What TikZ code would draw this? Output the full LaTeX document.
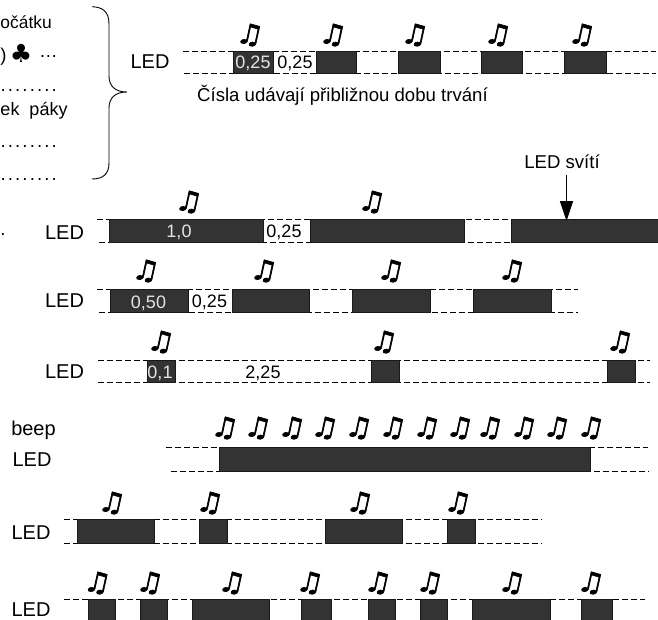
\documentclass[tikz,border=0pt]{standalone}
\usepackage{fontspec}
\setmainfont{Liberation Sans}
\newfontfamily\symfont{DejaVu Sans}
\newfontfamily\notefont[FakeBold=2.2]{DejaVu Sans}
\definecolor{ledfill}{HTML}{333333}
\definecolor{ledtext}{HTML}{E4E4E4}
\newcommand{\mynote}[2]{\node[notesym] (n#1x#2) at (#1,#2) {♫};}
% x1,x2,top,bottom
\newcommand{\mybox}[4]{\path[ledbox] (#1,#3) rectangle (#2,#4);}
\newcommand{\myrow}[6]{\draw[dashline] (#1,#3) -- (#2,#3); \draw[dashline] (#4,#6) -- (#5,#6);}
\newcommand{\mydots}{.\kern2.1pt.\kern2.1pt.\kern2.1pt.\kern2.1pt.\kern2.1pt.\kern2.1pt.\kern2.1pt.}
\tikzset{
  notesym/.style={font=\notefont\fontsize{27}{27}\selectfont,inner sep=0pt,text=black,xslant=0.22,xscale=1.1,transform shape},
  ledbox/.style={fill=ledfill,draw=black!90,line width=0.8pt},
  dashline/.style={draw=black,line width=0.8pt,dash pattern=on 6pt off 3pt},
  lbl/.style={font=\fontsize{20}{20}\selectfont,inner sep=0pt,text=black},
  num/.style={font=\fontsize{18}{18}\selectfont,inner sep=0pt,text=black},
  numw/.style={font=\fontsize{18}{18}\selectfont,inner sep=0pt,text=ledtext},
  txt/.style={font=\fontsize{18.6}{18.6}\selectfont,inner sep=0pt,text=black},
}
\begin{document}
\begin{tikzpicture}[x=1pt,y=-1pt]
\useasboundingbox (0,0) rectangle (658,619);
\clip (0,0) rectangle (658,619);
% left text
\node[txt,anchor=west,font=\fontsize{17.4}{17.4}\selectfont] (t1) at (0.3,22) {očátku};
\node[txt,anchor=west] (t2a) at (0.3,57) {)};
\node[inner sep=0pt,font=\symfont\fontsize{25}{25}\selectfont] (t2b) at (21,53) {♣};
\node[txt,anchor=east] (t2c) at (58,57) {…};
\node[txt,anchor=west] (t3) at (0.5,91) {\mydots};
\node[txt,anchor=west,font=\fontsize{18}{18}\selectfont] (t4) at (0.3,111) {ek\ \ páky};
\node[txt,anchor=west] (t5) at (0.5,147) {\mydots};
\node[txt,anchor=west] (t6) at (0.5,179.5) {\mydots};
\node[txt,anchor=west] (t7) at (0.3,234) {.};
% brace
\draw[line width=0.9pt] (92,6.7) .. controls (103,7) and (109,12) .. (109,24) -- (109,76)
  .. controls (109,86) and (115,92) .. (127,92)
  .. controls (115,92) and (109,98) .. (109,108) -- (109,163)
  .. controls (109,174) and (103,179) .. (92,179);
% row 1
\myrow{183}{656}{51.5}{184}{656}{73.5}
\foreach \a/\b in {233/273,316/356.5,398.5/440,481/522.5,564.5/606}{\mybox{\a}{\b}{51.5}{73.5}}
\foreach \x in {250,333,415,498,582}{\mynote{\x}{35}}
\node[lbl] (l1) at (150,62) {LED};
\node[numw] (v1) at (253,63) {0,25};
\node[num] (v2) at (295,63) {0,25};
\node[txt,anchor=west] (c1) at (197,95) {Čísla udávají přibližnou dobu trvání};
% row 2
\myrow{97}{656}{219.5}{99}{656}{242.5}
\foreach \a/\b in {109/263,310/464,511/660}{\mybox{\a}{\b}{219.5}{242.5}}
\foreach \x in {189,372}{\mynote{\x}{202}}
\node[lbl] (l2) at (64.5,232.5) {LED};
\node[numw] (v3) at (179,232) {1,0};
\node[num] (v4) at (284,232) {0,25};
\node[txt] (c2) at (562,162) {LED svítí};
\coordinate (a1) at (566.5,175);
\coordinate (a2) at (566.5,221);
\draw[line width=0.9pt] (a1) -- (566.5,203);
\fill (a2) -- (559.8,201) -- (573.2,201) -- cycle;
% row 3
\myrow{97}{578}{289.5}{99}{578}{312}
\foreach \a/\b in {110.5/188,232/309,352/430,473/551}{\mybox{\a}{\b}{289.5}{312}}
\foreach \x in {146,264,391,512}{\mynote{\x}{271}}
\node[lbl] (l3) at (64.5,301) {LED};
\node[numw] (v5) at (148.5,303) {0,50};
\node[num] (v6) at (209.5,302) {0,25};
% row 4
\myrow{98}{650}{360}{98}{650}{382}
\foreach \a/\b in {147/175,371/399,607/635}{\mybox{\a}{\b}{360}{382}}
\foreach \x in {161,384,620}{\mynote{\x}{342}}
\node[lbl] (l4) at (64.5,372) {LED};
\node[numw] (v7) at (160,373) {0,1};
\node[num] (v8) at (263,373) {2,25};
% row 5
\myrow{166}{648}{447}{171}{649}{471}
\mybox{219}{590.5}{447}{471}
\foreach \x in {225,258,292,325,359,393,427,460,490,524,557,591}{\mynote{\x}{428}}
\node[lbl] (b5) at (33.5,430) {beep};
\node[lbl] (l5) at (32,460) {LED};
% row 6
\myrow{64}{542}{519.5}{64}{542}{543}
\foreach \a/\b in {77/154.5,199.5/227,325/402,447/475}{\mybox{\a}{\b}{519.5}{543}}
\foreach \x in {112,210,360,458}{\mynote{\x}{503}}
\node[lbl] (l6) at (31,533) {LED};
% row 7
\myrow{64}{645}{599}{64}{645}{621}
\foreach \a/\b in {88/115,140/167,192/269.5,301/331,368/395,420/447,472/550,581/612}{\mybox{\a}{\b}{599}{621}}
\foreach \x in {97.5,150,232,310,378,430,512,591}{\mynote{\x}{583}}
\node[lbl] (l7) at (31,609.5) {LED};
\end{tikzpicture}
\end{document}
